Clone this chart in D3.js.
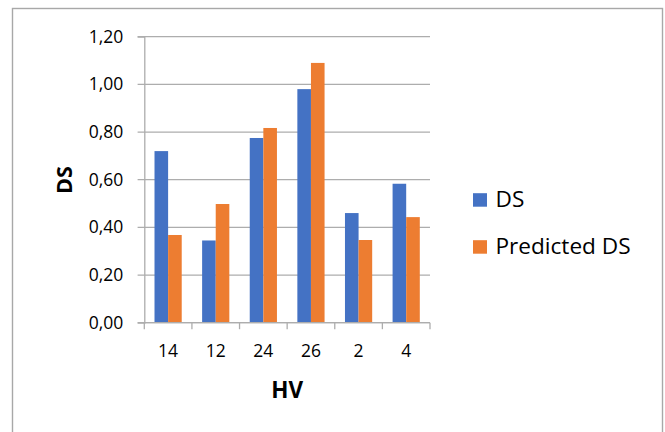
<!DOCTYPE html>
<html>
<head>
<meta charset="utf-8">
<script src="https://cdn.jsdelivr.net/npm/d3@7"></script>
<style>
  html, body { margin: 0; padding: 0; background: #fff; }
  svg { display: block; font-family: "Open Sans", sans-serif; }
</style>
</head>
<body>
<svg id="chart" width="665" height="432"></svg>
<script>
// HV categories and the two DS series
const categories = ["14", "12", "24", "26", "2", "4"];
const dsValues = [0.72, 0.345, 0.775, 0.98, 0.46, 0.583];
const predictedValues = [0.368, 0.498, 0.817, 1.09, 0.347, 0.443];
const seriesNames = ["DS", "Predicted DS"];
const seriesColors = ["#4472C4", "#ED7D31"];
const yTicks = [0, 0.2, 0.4, 0.6, 0.8, 1.0, 1.2];

const svg = d3.select("#chart");

// chart frame
svg.append("rect")
  .attr("x", 12.5).attr("y", 8.5)
  .attr("width", 650).attr("height", 480)
  .attr("fill", "#fff")
  .attr("stroke", "#a8a8a8").attr("stroke-width", 1.4);

const plot = { left: 144.3, right: 430, top: 36.7, bottom: 322.7 };

const x0 = d3.scaleBand().domain(categories).range([plot.left, plot.right]).padding(0);
const x1 = d3.scaleBand().domain(seriesNames).range([0, x0.bandwidth()])
  .paddingInner(0).paddingOuter(0.75);
const y = d3.scaleLinear().domain([0, 1.2]).range([plot.bottom, plot.top]);

const locale = d3.formatLocale({ decimal: ",", thousands: ".", grouping: [3], currency: ["", ""] });
const fmt = locale.format(".2f");

const gridColor = "#adadad";

// horizontal gridlines (with outside tick stubs on the left)
svg.append("g")
  .selectAll("line")
  .data(yTicks)
  .join("line")
  .attr("x1", plot.left - 6.7).attr("x2", plot.right)
  .attr("y1", d => y(d)).attr("y2", d => y(d))
  .attr("stroke", gridColor).attr("stroke-width", 1.3);

// value axis labels
const yAxis = svg.append("g")
  .attr("transform", `translate(${plot.left},0)`)
  .call(d3.axisLeft(y).tickValues(yTicks).tickFormat(fmt).tickSize(6.7).tickPadding(14.3));
yAxis.select(".domain").attr("stroke", gridColor).attr("stroke-width", 1.3);
yAxis.selectAll(".tick line").remove();
yAxis.selectAll("text")
  .attr("font-family", "Open Sans, sans-serif")
  .attr("font-size", 17.5).attr("fill", "#000");

// bars
const series = [dsValues, predictedValues];
const groups = svg.append("g")
  .selectAll("g")
  .data(categories)
  .join("g")
  .attr("transform", d => `translate(${x0(d)},0)`);

groups.selectAll("rect")
  .data((c, i) => seriesNames.map((s, k) => ({ s, v: series[k][i], k })))
  .join("rect")
  .attr("x", d => x1(d.s))
  .attr("width", x1.bandwidth())
  .attr("y", d => y(d.v))
  .attr("height", d => y(0) - y(d.v))
  .attr("fill", d => seriesColors[d.k]);

// category axis
const xAxis = svg.append("g")
  .attr("transform", `translate(0,${plot.bottom})`)
  .call(d3.axisBottom(x0).tickSize(0).tickPadding(0));
xAxis.select(".domain").remove();
xAxis.selectAll("text")
  .attr("y", 34).attr("dy", null)
  .attr("font-family", "Open Sans, sans-serif")
  .attr("font-size", 17.5).attr("fill", "#000");

svg.append("line")
  .attr("x1", plot.left).attr("x2", plot.right)
  .attr("y1", plot.bottom).attr("y2", plot.bottom)
  .attr("stroke", gridColor).attr("stroke-width", 1.3);

// tick marks on category boundaries
const boundaries = categories.map(c => x0(c)).concat([x0(categories[categories.length - 1]) + x0.bandwidth()]);
svg.append("g")
  .selectAll("line")
  .data(boundaries)
  .join("line")
  .attr("x1", d => d).attr("x2", d => d)
  .attr("y1", plot.bottom).attr("y2", plot.bottom + 6.5)
  .attr("stroke", gridColor).attr("stroke-width", 1.3);

// axis titles
svg.append("text")
  .attr("transform", `translate(71.7,180) rotate(-90)`)
  .attr("text-anchor", "middle")
  .attr("font-weight", "bold").attr("font-size", 21.5)
  .attr("fill", "#000")
  .text("DS");

svg.append("text")
  .attr("x", (plot.left + plot.right) / 2).attr("y", 398)
  .attr("text-anchor", "middle")
  .attr("font-weight", "bold").attr("font-size", 22.5)
  .attr("fill", "#000")
  .text("HV");

// legend
const legend = svg.append("g")
  .selectAll("g")
  .data(seriesNames)
  .join("g")
  .attr("transform", (d, i) => `translate(473,${206.7 + i * 47})`);
legend.append("rect")
  .attr("x", 0).attr("y", -13.5)
  .attr("width", 14).attr("height", 13.5)
  .attr("fill", (d, i) => seriesColors[i]);
legend.append("text")
  .attr("x", 22.5).attr("y", 0)
  .attr("font-size", 22.6).attr("fill", "#000")
  .text(d => d);
</script>
</body>
</html>
